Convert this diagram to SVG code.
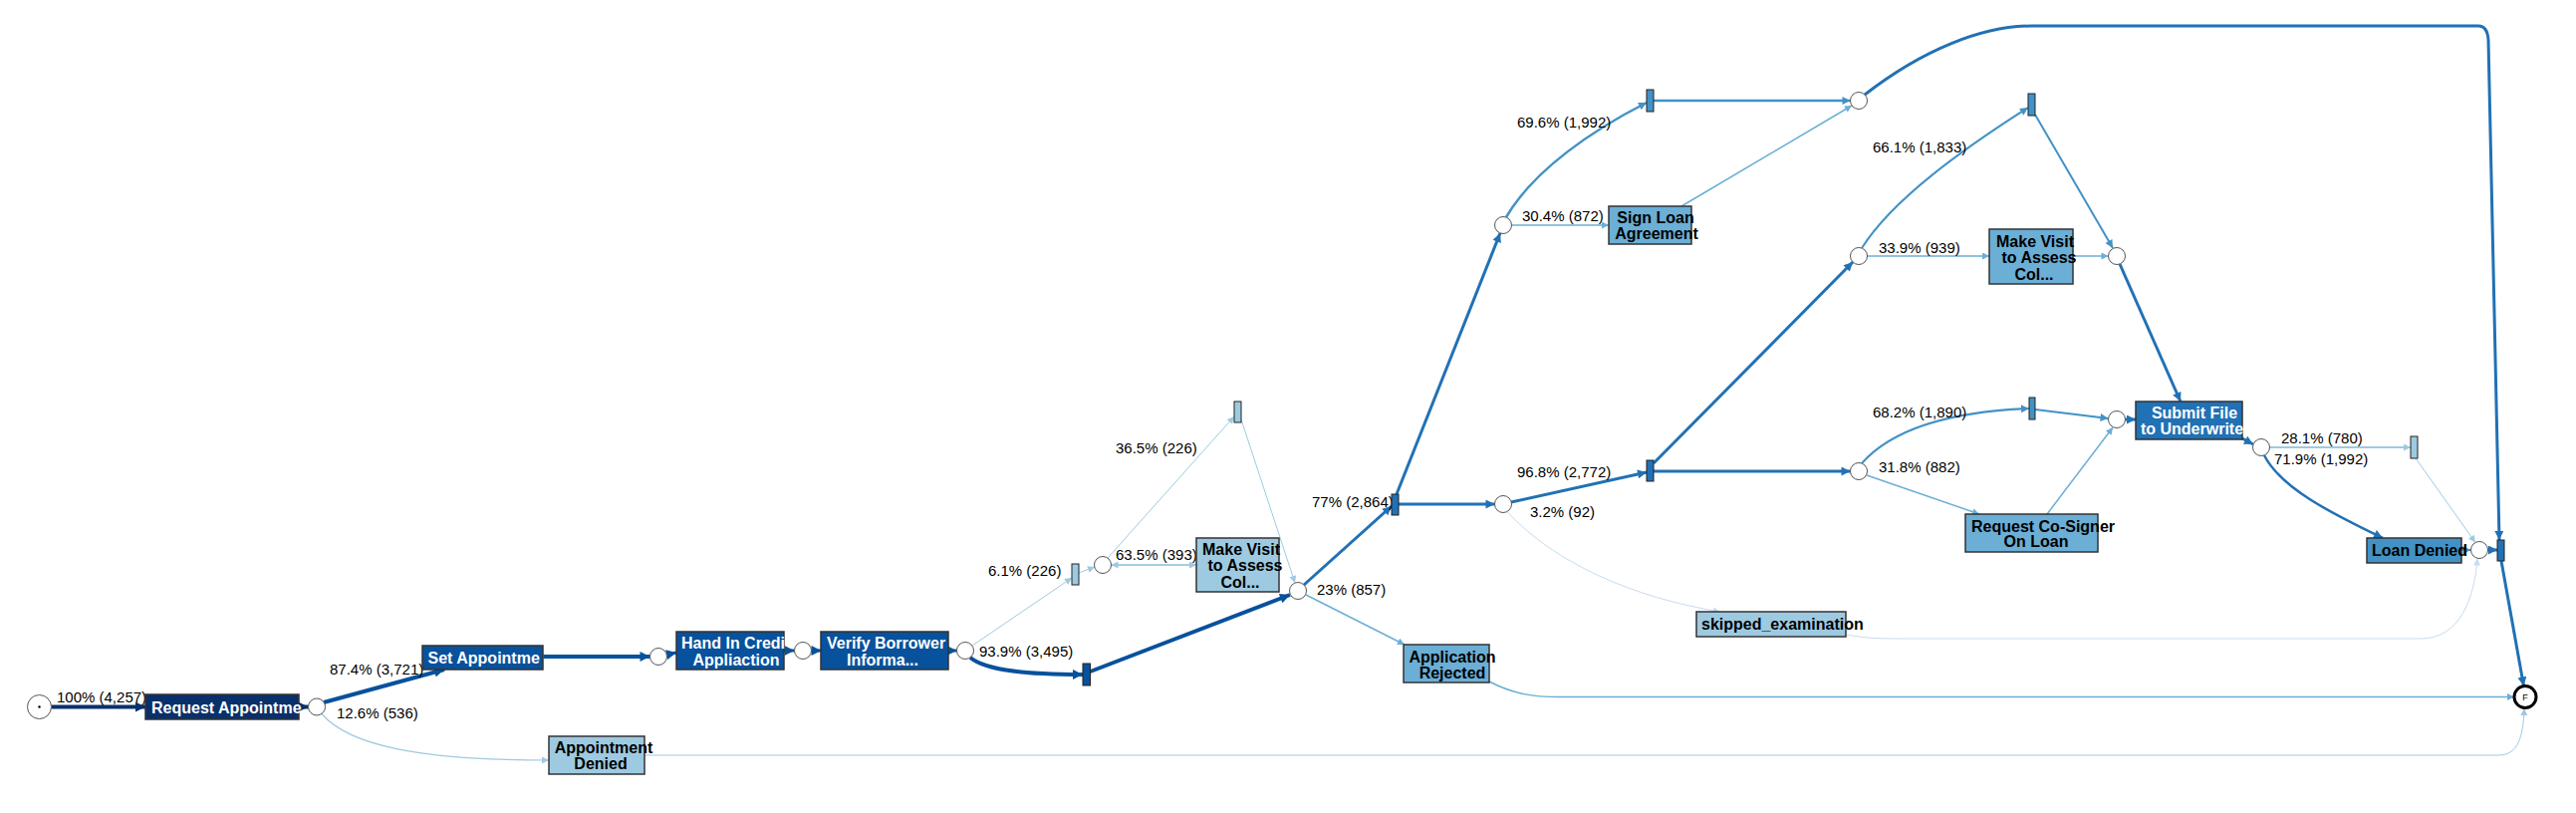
<svg xmlns="http://www.w3.org/2000/svg" width="2586" height="816" viewBox="0 0 2586 816">
<style>
.bg{fill:#ffffff}
.c{fill:#ffffff;stroke:#555;stroke-width:1}
.box{stroke:#333;stroke-width:1.5}
.bar{stroke:#222;stroke-width:1}
.lbl{font-family:"Liberation Sans",Arial,sans-serif;font-size:15px;fill:#000}
.bt{font-family:"Liberation Sans",Arial,sans-serif;font-size:16px;font-weight:bold;fill:#fff}
.bk{font-family:"Liberation Sans",Arial,sans-serif;font-size:16px;font-weight:bold;fill:#000}
.m{text-anchor:middle}
path{fill:none}
.k0{stroke:#08306b;marker-end:url(#a0)}
.k1{stroke:#08519c;marker-end:url(#a1)}
.k2{stroke:#2171b5;marker-end:url(#a2)}
.k3{stroke:#4292c6;marker-end:url(#a3)}
.k4{stroke:#6baed6;marker-end:url(#a4)}
.k5{stroke:#9ecae1;marker-end:url(#a5)}
.k6{stroke:#c6dbef;marker-end:url(#a6)}
</style>
<defs>
<marker id="a0" viewBox="0 0 10 10" refX="10" refY="5" markerUnits="userSpaceOnUse" markerWidth="12" markerHeight="10" orient="auto"><path d="M0,0L10,5L0,10z" style="fill:#08306b"/></marker>
<marker id="a1" viewBox="0 0 10 10" refX="10" refY="5" markerUnits="userSpaceOnUse" markerWidth="12" markerHeight="10" orient="auto"><path d="M0,0L10,5L0,10z" style="fill:#08519c"/></marker>
<marker id="a2" viewBox="0 0 10 10" refX="10" refY="5" markerUnits="userSpaceOnUse" markerWidth="11" markerHeight="9" orient="auto"><path d="M0,0L10,5L0,10z" style="fill:#2171b5"/></marker>
<marker id="a3" viewBox="0 0 10 10" refX="10" refY="5" markerUnits="userSpaceOnUse" markerWidth="10" markerHeight="8" orient="auto"><path d="M0,0L10,5L0,10z" style="fill:#4292c6"/></marker>
<marker id="a4" viewBox="0 0 10 10" refX="10" refY="5" markerUnits="userSpaceOnUse" markerWidth="9" markerHeight="7" orient="auto"><path d="M0,0L10,5L0,10z" style="fill:#6baed6"/></marker>
<marker id="a5" viewBox="0 0 10 10" refX="10" refY="5" markerUnits="userSpaceOnUse" markerWidth="9" markerHeight="7" orient="auto"><path d="M0,0L10,5L0,10z" style="fill:#9ecae1"/></marker>
<marker id="a6" viewBox="0 0 10 10" refX="10" refY="5" markerUnits="userSpaceOnUse" markerWidth="9" markerHeight="7" orient="auto"><path d="M0,0L10,5L0,10z" style="fill:#c6dbef"/></marker>
</defs>
<rect class="bg" x="0" y="0" width="2586" height="816"/>

<g id="connectors">
<path class="k0" stroke-width="4" d="M51.5,709.5 L146,709.5"/>
<path class="k0" stroke-width="4" d="M300,709.5 L309.5,709.5"/>
<path class="k1" stroke-width="4" d="M325,705 L446,672"/>
<path class="k5" stroke-width="1.2" d="M323,716.5 C350,748 420,763 551,763"/>
<path class="k1" stroke-width="4" d="M545.5,659 L652.5,659"/>
<path class="k1" stroke-width="3" d="M669.5,657 L679,655"/>
<path class="k1" stroke-width="3" d="M787,653 L797.5,653"/>
<path class="k1" stroke-width="3" d="M814.5,653 L824.5,653"/>
<path class="k1" stroke-width="3" d="M952,653 L960.5,653"/>
<path class="k1" stroke-width="4" d="M974,660 C990,673 1030,677 1087,677"/>
<path class="k5" stroke-width="1" d="M976,648 L1076,580"/>
<path class="k1" stroke-width="4" d="M1094.5,674 L1295,597"/>
<path class="k5" stroke-width="1" d="M1083,575 L1099,569"/>
<path class="k5" stroke-width="1.5" d="M1115.5,567 L1201,567"/>
<path class="k5" stroke-width="1.5" d="M1201,567 L1115.5,567"/>
<path class="k5" stroke-width="1" d="M1112,560 L1239,418"/>
<path class="k5" stroke-width="1" d="M1246,421 L1300,585"/>
<path class="k2" stroke-width="3" d="M1309,587 L1397,508"/>
<path class="k4" stroke-width="1.5" d="M1311,597 L1410,647"/>
<path class="k2" stroke-width="3" d="M1404,506 L1500.5,506"/>
<path class="k2" stroke-width="3" d="M1402,496 L1506,234"/>
<path class="k3" stroke-width="2.5" d="M1512,218 C1540,170 1600,130 1653,103"/>
<path class="k4" stroke-width="1.5" d="M1517.5,226 L1615,226"/>
<path class="k3" stroke-width="2.5" d="M1660,101 L1857.5,101"/>
<path class="k4" stroke-width="1.5" d="M1688,207 L1859,106"/>
<path class="k2" stroke-width="3" d="M1872,95 C1930,50 1990,26 2040,26 L2488,26 Q2497,26 2498,40 L2509,542"/>
<path class="k2" stroke-width="3" d="M1517,504 L1653,474"/>
<path class="k6" stroke-width="1" d="M1513,513.5 C1560,565 1640,600 1727,614"/>
<path class="k2" stroke-width="3" d="M1660,465 L1860,263"/>
<path class="k2" stroke-width="3" d="M1660,473 L1857.5,473"/>
<path class="k3" stroke-width="2" d="M1869,249 C1900,200 1970,150 2036,108"/>
<path class="k4" stroke-width="1.5" d="M1874.5,257 L1997,257"/>
<path class="k4" stroke-width="1.5" d="M2081,257 L2116.5,257"/>
<path class="k3" stroke-width="2" d="M2043,115 L2121,249"/>
<path class="k2" stroke-width="3" d="M2128,265 L2189,403"/>
<path class="k3" stroke-width="2" d="M1869,465 C1900,430 1960,413 2037,410"/>
<path class="k4" stroke-width="1.5" d="M1874,477 L1987,516"/>
<path class="k3" stroke-width="2" d="M2043,411 L2116.5,420"/>
<path class="k4" stroke-width="1.5" d="M2055,516 L2121,429"/>
<path class="k2" stroke-width="3" d="M2133.5,421 L2144,421"/>
<path class="k2" stroke-width="3" d="M2251,440 L2262,446"/>
<path class="k5" stroke-width="2" d="M2278.5,449 L2420,449"/>
<path class="k2" stroke-width="2.5" d="M2273,457 C2290,490 2340,515 2392,540"/>
<path class="k5" stroke-width="1" d="M2425,460 L2485,544.5"/>
<path class="k3" stroke-width="2" d="M2471,552 L2480.5,552"/>
<path class="k6" stroke-width="1" d="M1853,637 C1875,641 1890,641 1910,641 L2430,641 C2470,641 2484,600 2487,560.5"/>
<path class="k2" stroke-width="3" d="M2497.5,552 L2507,552"/>
<path class="k2" stroke-width="3" d="M2511,563 L2533.5,688.5"/>
<path class="k4" stroke-width="1.5" d="M1495,684 C1520,697 1540,699.5 1565,699.5 L2524,699.5"/>
<path class="k5" stroke-width="1" d="M647,758 L2508,758 C2528,758 2533,740 2534,711"/>
</g>

<g id="edge-labels">
<text class="lbl" x="57" y="705">100% (4,257)</text>
<text class="lbl" x="331" y="677">87.4% (3,721)</text>
<text class="lbl" x="338" y="721">12.6% (536)</text>
<text class="lbl" x="983" y="658.5">93.9% (3,495)</text>
<text class="lbl" x="992" y="578">6.1% (226)</text>
<text class="lbl" x="1120" y="562">63.5% (393)</text>
<text class="lbl" x="1120" y="455">36.5% (226)</text>
<text class="lbl" x="1317" y="509">77% (2,864)</text>
<text class="lbl" x="1322" y="597">23% (857)</text>
<text class="lbl" x="1523" y="128">69.6% (1,992)</text>
<text class="lbl" x="1528" y="222">30.4% (872)</text>
<text class="lbl" x="1523" y="478.5">96.8% (2,772)</text>
<text class="lbl" x="1536" y="518.5">3.2% (92)</text>
<text class="lbl" x="1880" y="153">66.1% (1,833)</text>
<text class="lbl" x="1886" y="253.5">33.9% (939)</text>
<text class="lbl" x="1880" y="418.5">68.2% (1,890)</text>
<text class="lbl" x="1886" y="474">31.8% (882)</text>
<text class="lbl" x="2290" y="445">28.1% (780)</text>
<text class="lbl" x="2283" y="465.5">71.9% (1,992)</text>
</g>

<g id="start"><circle class="c" cx="39.5" cy="709.5" r="12"/><circle cx="39.5" cy="709.5" r="1.2" fill="#000"/></g>
<g id="end"><circle cx="2535" cy="699.5" r="11" fill="#fff" stroke="#000" stroke-width="3"/><text x="2535" y="703" class="m" style="font-family:'Liberation Sans',Arial,sans-serif;font-size:9px">F</text></g>

<g id="gates">
<circle class="c" cx="318" cy="709.5" r="8.5"/>
<circle class="c" cx="661" cy="659" r="8.5"/>
<circle class="c" cx="806" cy="653" r="8.5"/>
<circle class="c" cx="969" cy="653" r="8.5"/>
<circle class="c" cx="1303" cy="593" r="8.5"/>
<circle class="c" cx="1107" cy="567" r="8.5"/>
<circle class="c" cx="1509" cy="506" r="8.5"/>
<circle class="c" cx="1509" cy="226" r="8.5"/>
<circle class="c" cx="1866" cy="101" r="8.5"/>
<circle class="c" cx="1866" cy="257" r="8.5"/>
<circle class="c" cx="1866" cy="473" r="8.5"/>
<circle class="c" cx="2125" cy="257" r="8.5"/>
<circle class="c" cx="2125" cy="421" r="8.5"/>
<circle class="c" cx="2270" cy="449" r="8.5"/>
<circle class="c" cx="2489" cy="552" r="8.5"/>
</g>

<g id="bars">
<rect class="bar" x="1087" y="666" width="7.5" height="22" fill="#08519c"/>
<rect class="bar" x="1076" y="566" width="7" height="21" fill="#9ecae1"/>
<rect class="bar" x="1239" y="403" width="7" height="21" fill="#9ecae1"/>
<rect class="bar" x="1397" y="496" width="7" height="21" fill="#2171b5"/>
<rect class="bar" x="1653" y="90" width="7" height="22" fill="#4292c6"/>
<rect class="bar" x="1653" y="462" width="7" height="21" fill="#2171b5"/>
<rect class="bar" x="2036" y="94" width="7" height="22" fill="#4292c6"/>
<rect class="bar" x="2037" y="399" width="6" height="22" fill="#4292c6"/>
<rect class="bar" x="2420" y="438" width="7" height="22" fill="#9ecae1"/>
<rect class="bar" x="2507" y="542" width="7" height="21" fill="#2171b5"/>
</g>

<g id="request-appointment"><rect class="box" x="146" y="697" width="154" height="25" fill="#08306b"/><text class="bt" x="152" y="715.5">Request Appointme</text></g>
<g id="set-appointment"><rect class="box" x="424" y="648" width="121" height="24" fill="#08519c"/><text class="bt" x="429.5" y="665.5">Set Appointme</text></g>
<g id="appointment-denied"><rect class="box" x="551" y="739" width="96" height="38" fill="#9ecae1"/><text class="bk m" x="606" y="755.5">Appointment</text><text class="bk m" x="603" y="772">Denied</text></g>
<g id="hand-in"><rect class="box" x="679" y="634" width="108" height="38" fill="#08519c"/><text class="bt" x="684" y="651">Hand In Credi</text><text class="bt m" x="739" y="667.5">Appliaction</text></g>
<g id="verify"><rect class="box" x="824" y="634" width="128" height="38" fill="#08519c"/><text class="bt" x="830" y="651">Verify Borrower</text><text class="bt m" x="886" y="667.5">Informa...</text></g>
<g id="make-visit-1"><rect class="box" x="1201" y="540" width="83" height="54" fill="#9ecae1"/><text class="bk m" x="1246" y="556.5">Make Visit</text><text class="bk m" x="1250" y="573">to Assess</text><text class="bk m" x="1245" y="590">Col...</text></g>
<g id="application-rejected"><rect class="box" x="1409" y="647" width="86" height="38" fill="#6baed6"/><text class="bk m" x="1458" y="664.5">Application</text><text class="bk m" x="1458" y="680.5">Rejected</text></g>
<g id="sign-loan"><rect class="box" x="1615" y="207" width="83" height="38" fill="#6baed6"/><text class="bk m" x="1662" y="224">Sign Loan</text><text class="bk m" x="1663" y="239.5">Agreement</text></g>
<g id="skipped"><rect class="box" x="1703" y="614" width="150" height="25" fill="#9ecae1"/><text class="bk" x="1708" y="631.5">skipped_examination</text></g>
<g id="make-visit-2"><rect class="box" x="1997" y="230" width="84" height="55" fill="#6baed6"/><text class="bk m" x="2043" y="247.5">Make Visit</text><text class="bk m" x="2047" y="264">to Assess</text><text class="bk m" x="2042" y="280.5">Col...</text></g>
<g id="co-signer"><rect class="box" x="1973" y="516" width="133" height="38" fill="#6baed6"/><text class="bk m" x="2051" y="533.5">Request Co-Signer</text><text class="bk m" x="2044" y="549">On Loan</text></g>
<g id="submit-file"><rect class="box" x="2144" y="403" width="107" height="38" fill="#2171b5"/><text class="bt m" x="2203" y="419.5">Submit File</text><text class="bt m" x="2200.5" y="436">to Underwrite</text></g>
<g id="loan-denied"><rect class="box" x="2376" y="540" width="95" height="25" fill="#4292c6"/><text class="bk" x="2381" y="557.5">Loan Denied</text></g>
</svg>
